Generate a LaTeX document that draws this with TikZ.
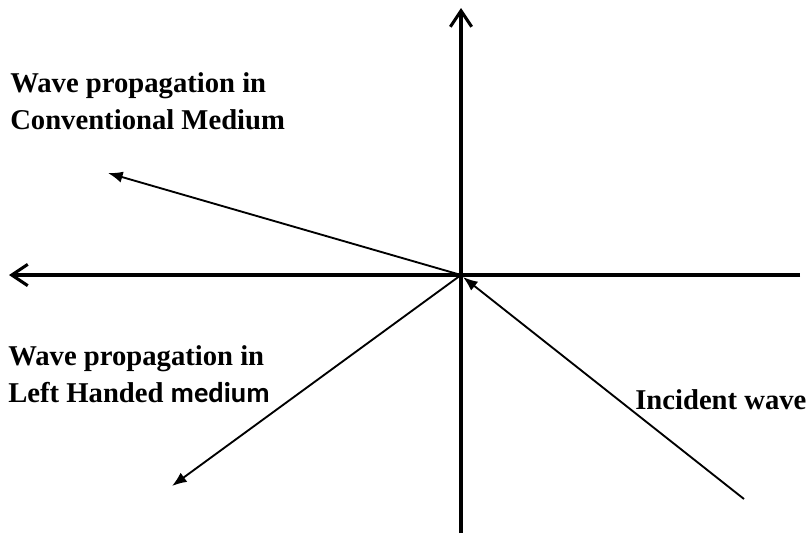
\documentclass[tikz,border=0pt]{standalone}
\usepackage{fontspec}
\setmainfont{Liberation Serif}
\newfontfamily\labelsans{Carlito}
\usetikzlibrary{arrows.meta}
\begin{document}
\begin{tikzpicture}[x=0.75pt,y=-0.75pt,
  axis/.style={line width=2.3pt,-{Straight Barb[length=12pt,width=16pt]}},
  ray/.style={line width=1.4pt,-{Latex[length=11pt,width=8.5pt]}},
  lbl/.style={anchor=base west,inner sep=0pt,align=left,
    font=\bfseries\fontsize{21.5}{27.5}\selectfont}]
  \useasboundingbox (0,0) rectangle (810,533);
  % Akser
  \coordinate (o) at (461,275);
  \coordinate (top) at (461,8);
  \coordinate (bottom) at (461,533);
  \coordinate (left) at (9,275);
  \coordinate (right) at (800,275);
  \draw[axis] (bottom) -- (top);
  \draw[axis] (right) -- (left);
  % Stråler
  \coordinate (conv) at (108,173);
  \coordinate (lhm) at (172,486);
  \coordinate (src) at (744,499);
  \coordinate (hit) at (463,277);
  \draw[ray] (o) -- (conv);
  \draw[ray] (o) -- (lhm);
  \draw[ray] (src) -- (hit);
  % Tekster (base = siste linje)
  \node[lbl] (convtxt) at (10,129) {Wave propagation in\\Conventional Medium};
  \node[lbl] (lhmtxt) at (8,402) {Wave propagation in\\Left Handed {\labelsans medium}};
  \node[lbl] (inctxt) at (635,409) {Incident wave};
\end{tikzpicture}
\end{document}
